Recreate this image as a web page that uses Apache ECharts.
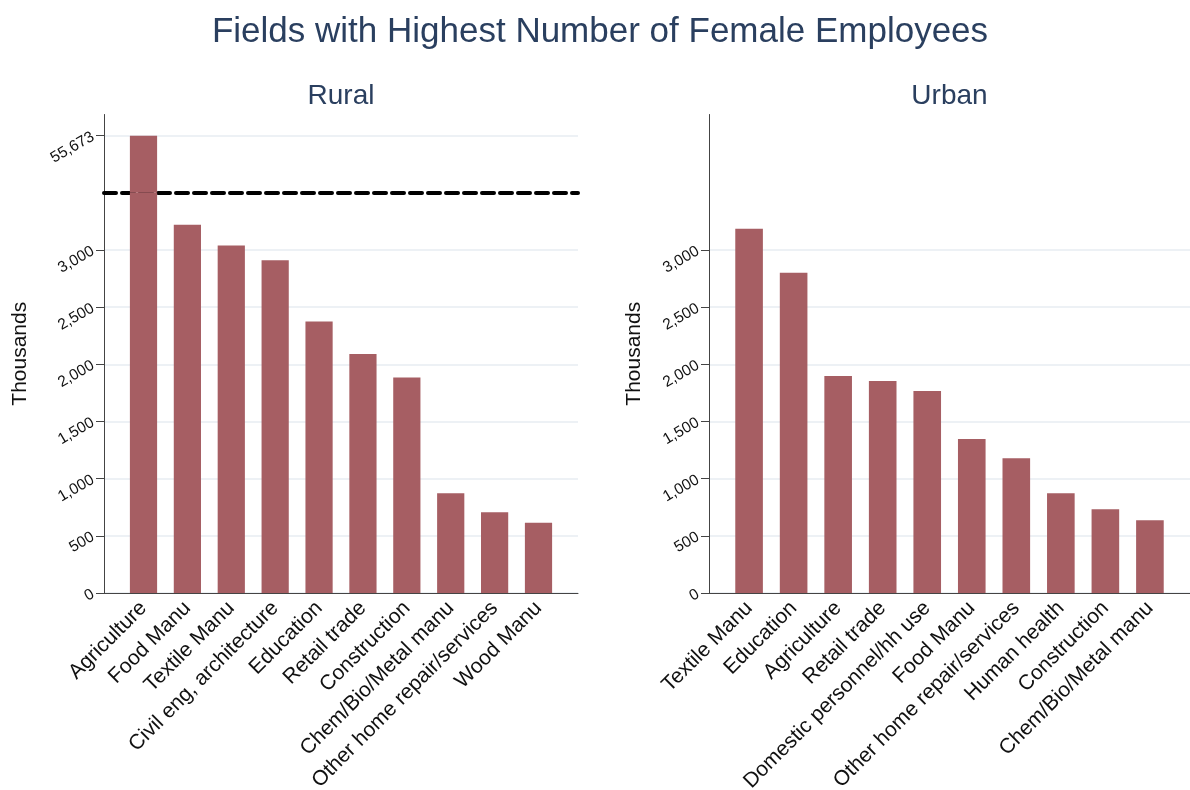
<!DOCTYPE html>
<html>
<head>
<meta charset="utf-8">
<script src="https://cdn.jsdelivr.net/npm/echarts@6/dist/echarts.min.js"></script>
<style>
html,body{margin:0;padding:0;background:#fff;}
#chart{width:1190px;height:790px;}
</style>
</head>
<body>
<div id="chart"></div>
<script>
// ---------- data ----------
const ruralCategories = ['Agriculture', 'Food Manu', 'Textile Manu', 'Civil eng, architecture', 'Education', 'Retail trade', 'Construction', 'Chem/Bio/Metal manu', 'Other home repair/services', 'Wood Manu'];
const ruralValues = [55673, 3220, 3040, 2910, 2375, 2090, 1885, 872, 706, 615];

const urbanCategories = ['Textile Manu', 'Education', 'Agriculture', 'Retail trade', 'Domestic personnel/hh use', 'Food Manu', 'Other home repair/services', 'Human health', 'Construction', 'Chem/Bio/Metal manu'];
const urbanValues = [3185, 2800, 1898, 1855, 1767, 1347, 1178, 872, 732, 636];

const ruralTicks = [0, 500, 1000, 1500, 2000, 2500, 3000];
const ruralTopTicks = [55673];
const urbanTicks = [0, 500, 1000, 1500, 2000, 2500, 3000];

// broken-axis ranges for the rural panel
const lowMax = 3500;
const highMin = 55173;
const highMax = 55858;
const urbanMax = 4185;

// ---------- layout ----------
const FONT = "'Liberation Sans', Arial, sans-serif";
const BAR_COLOR = '#a65e63';
const AXIS_COLOR = '#444';
const GRID_COLOR = '#edf1f5';

const TOP = 114.5, BOTTOM = 593;
const BREAK_Y = 192.83;
const R_LEFT = 104, R_RIGHT = 578;
const U_LEFT = 709, U_RIGHT = 1190;
function inset(l, r) { const band = (r - l) / 10.8; return { left: l + 0.4 * band, width: band * 10 }; }
const rIn = inset(R_LEFT, R_RIGHT), uIn = inset(U_LEFT, U_RIGHT);

const fmt = v => Number(v).toLocaleString('en-US');

function grid(left, width, top, bottom) {
  return { left: left, width: width, top: top, height: bottom - top, containLabel: false, outerBoundsMode: 'none' };
}

const grids = [
  grid(R_LEFT, R_RIGHT - R_LEFT, TOP, BOTTOM),        // 0 rural frame
  grid(R_LEFT, R_RIGHT - R_LEFT, BREAK_Y, BOTTOM),    // 1 rural lower scale
  grid(R_LEFT, R_RIGHT - R_LEFT, TOP, BREAK_Y),       // 2 rural upper scale
  grid(rIn.left, rIn.width, BREAK_Y, BOTTOM),         // 3 rural lower bars
  grid(rIn.left, rIn.width, TOP, BREAK_Y),            // 4 rural upper bars
  grid(U_LEFT, U_RIGHT - U_LEFT, TOP, BOTTOM),        // 5 urban frame
  grid(uIn.left, uIn.width, TOP, BOTTOM)              // 6 urban bars
];

const hiddenX = (gi) => ({ type: 'value', gridIndex: gi, min: 0, max: 1, show: false });
const lineX = (gi, style) => ({
  type: 'value', gridIndex: gi, min: 0, max: 1, position: 'bottom',
  axisLine: { show: true, onZero: false, lineStyle: style },
  axisTick: { show: false }, axisLabel: { show: false }, splitLine: { show: false }
});
const catX = (gi, cats, show) => ({
  type: 'category', gridIndex: gi, data: cats, show: show,
  axisLine: { show: false }, axisTick: { show: false },
  axisLabel: { show: show, interval: 0, rotate: 45, margin: 12, fontSize: 21, color: '#111', fontFamily: FONT }
});
const hiddenY = (gi, min, max) => ({ type: 'value', gridIndex: gi, min: min, max: max, show: false });
const scaleY = (gi, min, max, ticks, showLine) => ({
  type: 'value', gridIndex: gi, min: min, max: max,
  axisLine: { show: showLine, lineStyle: { color: AXIS_COLOR, width: 1 } },
  axisTick: { show: true, inside: false, length: 8, customValues: ticks, lineStyle: { color: AXIS_COLOR } },
  axisLabel: { show: true, customValues: ticks, rotate: 30, margin: 11, fontSize: 15.5, color: '#111', fontFamily: FONT, formatter: fmt },
  splitLine: { show: true, lineStyle: { color: GRID_COLOR, width: 2 } }
});
const nameY = (gi, min, max, gap) => ({
  type: 'value', gridIndex: gi, min: min, max: max,
  name: 'Thousands', nameLocation: 'middle', nameRotate: 90, nameGap: gap,
  nameTextStyle: { fontSize: 21, color: '#111', fontFamily: FONT },
  axisLine: { show: true, lineStyle: { color: AXIS_COLOR, width: 1 } },
  axisTick: { show: false }, axisLabel: { show: false }, splitLine: { show: false }
});

const xAxes = [
  lineX(0, { color: AXIS_COLOR, width: 1 }),
  hiddenX(1),
  lineX(2, { color: '#000', width: 4, type: [12, 6] }),
  catX(3, ruralCategories, true),
  catX(4, ruralCategories, false),
  lineX(5, { color: AXIS_COLOR, width: 1 }),
  catX(6, urbanCategories, true)
];
const yAxes = [
  nameY(0, 0, 1, 73),
  scaleY(1, 0, lowMax, ruralTicks, false),
  scaleY(2, highMin, highMax, ruralTopTicks, false),
  hiddenY(3, 0, lowMax),
  hiddenY(4, highMin, highMax),
  Object.assign(scaleY(5, 0, urbanMax, urbanTicks, true), {
    name: 'Thousands', nameLocation: 'middle', nameRotate: 90, nameGap: 64,
    nameTextStyle: { fontSize: 21, color: '#111', fontFamily: FONT }
  }),
  hiddenY(6, 0, urbanMax)
];

const barSeries = (xi, yi, data) => ({
  type: 'bar', xAxisIndex: xi, yAxisIndex: yi, data: data, clip: true,
  barCategoryGap: '38%', itemStyle: { color: BAR_COLOR }, silent: true, animation: false
});

const chart = echarts.init(document.getElementById('chart'), null, { renderer: 'canvas' });
chart.setOption({
  backgroundColor: '#fff',
  animation: false,
  textStyle: { fontFamily: FONT },
  title: [
    { text: 'Fields with Highest Number of Female Employees', left: 595, top: 10, textAlign: 'center',
      textStyle: { fontSize: 35, fontWeight: 'normal', color: '#2a3f5f', fontFamily: FONT } },
    { text: 'Rural', left: (R_LEFT + R_RIGHT) / 2 - 5, top: 77, textAlign: 'center',
      textStyle: { fontSize: 28, fontWeight: 'normal', color: '#2a3f5f', fontFamily: FONT } },
    { text: 'Urban', left: (U_LEFT + U_RIGHT) / 2 - 5, top: 77, textAlign: 'center',
      textStyle: { fontSize: 28, fontWeight: 'normal', color: '#2a3f5f', fontFamily: FONT } }
  ],
  grid: grids,
  xAxis: xAxes,
  yAxis: yAxes,
  series: [
    barSeries(3, 3, ruralValues),
    barSeries(4, 4, ruralValues),
    barSeries(6, 6, urbanValues)
  ]
});
</script>
</body>
</html>
